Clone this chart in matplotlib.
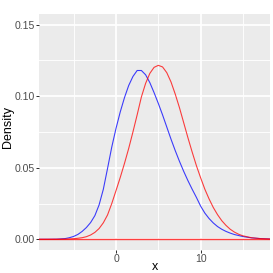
import matplotlib
matplotlib.use("Agg")
import matplotlib.pyplot as plt

# density curves (x, density)
blue_x = [-9.1, -8, -7, -6, -5.5, -5, -4.5, -4, -3.5, -3, -2.5, -2, -1.5, -1, -0.5,
          0, 0.5, 1, 1.5, 2, 2.5, 3, 3.5, 4, 4.5, 5, 5.5, 6, 6.5, 7, 7.5, 8, 8.5,
          9, 9.5, 10, 10.5, 11, 11.5, 12, 12.5, 13, 13.5, 14, 15, 16, 17, 18.2]
blue_y = [0.0, 0.00002, 0.0001, 0.0005, 0.0011, 0.0020, 0.0034, 0.0055, 0.0082,
          0.0117, 0.0165, 0.0240, 0.0349, 0.0495, 0.0645, 0.0775, 0.0890, 0.0990,
          0.1075, 0.1138, 0.1180, 0.1180, 0.1150, 0.1095, 0.1025, 0.0950, 0.0870,
          0.0785, 0.0700, 0.0620, 0.0545, 0.0475, 0.0410, 0.0350, 0.0293, 0.0232,
          0.0183, 0.0145, 0.0114, 0.0089, 0.0070, 0.0055, 0.0043, 0.0033, 0.0019,
          0.0010, 0.0005, 0.0002]

red_x = [-9.1, -8, -7, -6, -5, -4.5, -4, -3.5, -3, -2.5, -2, -1.5, -1, -0.5, 0,
         0.5, 1, 1.5, 2, 2.5, 3, 3.5, 4, 4.5, 5, 5.5, 6, 6.5, 7, 7.5, 8, 8.5, 9,
         9.5, 10, 10.5, 11, 11.5, 12, 12.5, 13, 13.5, 14, 14.5, 15, 16, 17, 18.2]
red_y = [0.0, 0.00001, 0.00003, 0.0001, 0.0004, 0.0007, 0.0011, 0.0018, 0.0030,
         0.0048, 0.0075, 0.0115, 0.0170, 0.0250, 0.0340, 0.0432, 0.0530, 0.0635,
         0.0750, 0.0870, 0.0995, 0.1090, 0.1160, 0.1202, 0.1216, 0.1205, 0.1165,
         0.1100, 0.1015, 0.0920, 0.0815, 0.0710, 0.0610, 0.0515, 0.0430, 0.0350,
         0.0282, 0.0222, 0.0172, 0.0130, 0.0097, 0.0070, 0.0050, 0.0035, 0.0024,
         0.0011, 0.0005, 0.0002]

x_ticks = [0, 10]
x_minor = [-5, 5, 15]
y_ticks = [0.00, 0.05, 0.10, 0.15]
y_labels = ["0.00", "0.05", "0.10", "0.15"]
y_minor = [0.025, 0.075, 0.125]

plt.rcParams["font.family"] = ["Liberation Sans", "DejaVu Sans"]

W = 273
fig = plt.figure(figsize=(W / 72, W / 72), dpi=72)
ax = fig.add_axes([39 / W, (W - 250) / W, 231 / W, 236 / W])
ax.set_facecolor("#EBEBEB")
for s in ax.spines.values():
    s.set_visible(False)

# grid, ggplot style
for v in x_minor:
    ax.axvline(v, color="white", lw=0.9, zorder=0)
for v in y_minor:
    ax.axhline(v, color="white", lw=0.9, zorder=0)
for v in x_ticks:
    ax.axvline(v, color="white", lw=1.7, zorder=0)
for v in y_ticks:
    ax.axhline(v, color="white", lw=1.7, zorder=0)

ax.plot(blue_x, blue_y, color="blue", lw=1.1, alpha=0.75, zorder=2)
ax.plot(red_x, red_y, color="red", lw=1.1, alpha=0.75, zorder=3)
ax.axhline(0, color="red", lw=1.4, alpha=0.75, zorder=3)

ax.set_xlim(-9.1, 18.2)
ax.set_ylim(-0.0075, 0.1575)
ax.set_xticks(x_ticks)
ax.set_xticklabels([str(t) for t in x_ticks])
ax.set_yticks(y_ticks)
ax.set_yticklabels(y_labels)
ax.tick_params(length=2.75, width=1.0, color="#333333", labelcolor="#4D4D4D",
               labelsize=10.5, pad=1.2)

fig.text(154.5 / W, 3 / W, "x", fontsize=12.5, ha="center", va="baseline")
fig.text(8 / W, (W - 127) / W, "Density", fontsize=12.5, rotation=90,
         ha="center", va="center")

fig.savefig("out.png", dpi=72)
